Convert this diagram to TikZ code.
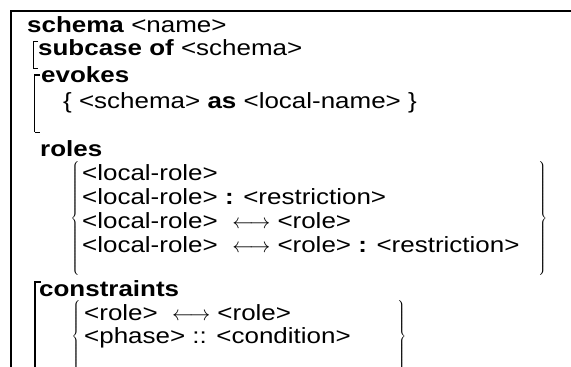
\documentclass[tikz,border=0pt]{standalone}
\usepackage{fontspec}
\setmainfont{Liberation Sans}[FakeStretch=1.18]
\usetikzlibrary{positioning}
\tikzset{
  entry/.style={anchor=base west, inner sep=0pt, font=\fontsize{22}{24}\selectfont},
  curly/.style={inner sep=0pt, font=\fontsize{28}{30}\selectfont},
  frameline/.style={line width=1.6pt},
  bracket/.style={line width=1.5pt},
  thinbracket/.style={line width=0.8pt},
}
\newcommand{\lr}{$\longleftrightarrow$}
\newcommand{\tall}[1]{\vrule height #1 depth #1 width 0pt}

\begin{document}
\begin{tikzpicture}[x=1pt, y=-1pt]
  \useasboundingbox (0,0) rectangle (571,367);

  % Outer frame, open at the bottom and right
  \coordinate (frameR) at (571,11);
  \coordinate (frameTL) at (11,11);
  \coordinate (frameB) at (11,367);
  \draw[frameline] (frameR) -- (frameTL) -- (frameB);

  % Header
  \node[entry] (schema) at (27,32) {\textbf{schema} <name>};

  % Optional subcase
  \node[entry] (subcase) at (38,55) {\textbf{subcase of} <schema>};
  \draw[thinbracket] (38,41) -- (33.5,41) -- (33.5,68) -- (38,68);

  % Optional evokes block
  \node[entry] (evokes) at (41,82) {\textbf{evokes}};
  \node[entry] (evitem) at (63,108) {\{ <schema> \textbf{as} <local-name> \}};
  \draw[bracket] (40,75) -- (34.5,75) -- (34.5,132);
  \draw[thinbracket] (34.5,132) -- (40,132);

  % Roles block
  \node[entry] (roles) at (40,156) {\textbf{roles}};
  \node[curly, anchor=east] (rolesL) at (81,219) {$\left\{\tall{52pt}\right.$};
  \node[entry] (role1) at (82,180) {<local-role>};
  \node[entry] (role2) at (82,204) {<local-role> \textbf{:} <restriction>};
  \node[entry] (role3) at (82,228) {<local-role>~~\lr{} <role>};
  \node[entry] (role4) at (82,252) {<local-role>~~\lr{} <role> \textbf{:} <restriction>};
  \node[curly, anchor=west] (rolesR) at (537,219) {$\left.\tall{52pt}\right\}$};

  % Optional constraints block
  \node[curly, anchor=east] (consL) at (82,337) {$\left\{\tall{30pt}\right.$};
  \node[entry] (constraints) at (39,296) {\textbf{constraints}};
  \node[entry] (cons1) at (84,320) {<role>~~\lr{} <role>};
  \node[entry] (cons2) at (84,343) {<phase> :: <condition>};
  \node[curly, anchor=west] (consR) at (396,337) {$\left.\tall{30pt}\right\}$};
  \draw[bracket] (41,282) -- (35,282) -- (35,367);
\end{tikzpicture}
\end{document}
